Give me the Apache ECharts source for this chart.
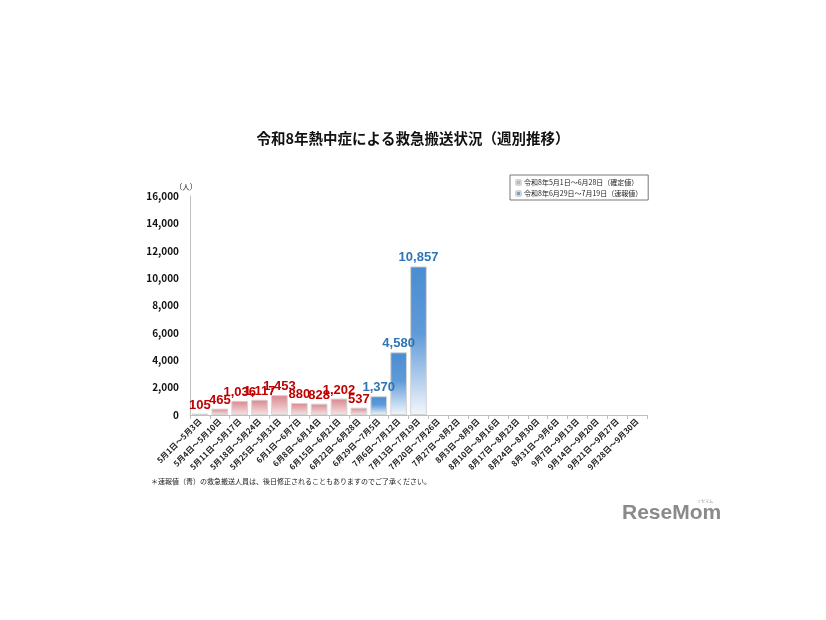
<!DOCTYPE html>
<html><head><meta charset="utf-8">
<script src="https://cdn.jsdelivr.net/npm/echarts@6/dist/echarts.min.js"></script>
<style>html,body{margin:0;padding:0;background:#fff}#c{width:826px;height:620px}</style>
</head><body><div id="c"></div>
<script>
const categories = ['5月1日～5月3日','5月4日～5月10日','5月11日～5月17日','5月18日～5月24日','5月25日～5月31日','6月1日～6月7日','6月8日～6月14日','6月15日～6月21日','6月22日～6月28日','6月29日～7月5日','7月6日～7月12日','7月13日～7月19日','7月20日～7月26日','7月27日～8月2日','8月3日～8月9日','8月10日～8月16日','8月17日～8月23日','8月24日～8月30日','8月31日～9月6日','9月7日～9月13日','9月14日～9月20日','9月21日～9月27日','9月28日～9月30日'];
const confirmedValues = [105,465,1036,1117,1453,880,828,1202,537,'-','-','-','-','-','-','-','-','-','-','-','-','-','-'];
const preliminaryValues = ['-','-','-','-','-','-','-','-','-',1370,4580,10857,'-','-','-','-','-','-','-','-','-','-','-'];
const yTicks = {min:0, max:16000, interval:2000};
const seriesNames = ['令和8年5月1日～6月28日（確定値）','令和8年6月29日～7月19日（速報値）'];

const font = '"Noto Sans CJK JP", "Noto Sans", sans-serif';
const numFont = '"Liberation Sans Narrow", "Liberation Sans", Arial, sans-serif';
const fmt = p => Number(p.value).toLocaleString('en-US');
const chart = echarts.init(document.getElementById('c'));
chart.setOption({
  animation:false,
  textStyle:{fontFamily:font},
  title:{text:'令和8年熱中症による救急搬送状況（週別推移）',left:'center',top:126,
    textStyle:{fontSize:14.5,fontWeight:'bold',color:'#111',fontFamily:font}},
  legend:{orient:'vertical',left:510,top:175,width:138,itemWidth:5,itemHeight:5,itemGap:4,
    padding:[4,6,3,5],borderColor:'#555',borderWidth:0.8,
    textStyle:{fontSize:7,color:'#222',fontFamily:font,padding:[0,0,0,-2]},
    data:[{name:seriesNames[0],itemStyle:{color:'#e4a6ab'}},{name:seriesNames[1],itemStyle:{color:'#6ea3dc'}}]},
  grid:{left:190,right:179,top:196,bottom:205},
  xAxis:{type:'category',data:categories,
    axisLine:{lineStyle:{color:'#bfbfbf'}},
    axisTick:{show:true,length:4,lineStyle:{color:'#bfbfbf'}},
    axisLabel:{interval:0,rotate:45,fontSize:8,fontWeight:'bold',color:'#222',margin:5,fontFamily:font}},
  yAxis:{type:'value',min:yTicks.min,max:yTicks.max,interval:yTicks.interval,
    name:'（人）',nameLocation:'end',nameGap:4,
    nameTextStyle:{fontSize:7.5,color:'#222',align:'center',padding:[0,8,0,0]},
    splitLine:{show:false},
    axisLine:{show:true,lineStyle:{color:'#bfbfbf'}},axisTick:{show:false},
    axisLabel:{fontSize:10,fontWeight:'bold',color:'#111',margin:11,
      formatter:v=>Number(v).toLocaleString('en-US')}},
  series:[
    {name:seriesNames[0],type:'bar',data:confirmedValues,barWidth:'84%',barGap:'-100%',
      itemStyle:{borderColor:'#d4d4d4',borderWidth:1,
        color:new echarts.graphic.LinearGradient(0,0,0,1,[{offset:0,color:'#d8868d'},{offset:1,color:'#f8e4e5'}])},
      label:{show:true,position:'top',distance:2,formatter:fmt,color:'#c00000',fontSize:13,fontWeight:'bold',fontFamily:numFont}},
    {name:seriesNames[1],type:'bar',data:preliminaryValues,barWidth:'84%',barGap:'-100%',
      itemStyle:{borderColor:'#d4d4d4',borderWidth:1,
        color:new echarts.graphic.LinearGradient(0,0,0,1,[{offset:0,color:'#4a8dd2'},{offset:0.45,color:'#5f9ad8'},{offset:1,color:'#f3f7fc'}])},
      label:{show:true,position:'top',distance:2,formatter:fmt,color:'#2e75b6',fontSize:13,fontWeight:'bold',fontFamily:numFont}}
  ],
  graphic:[
    {type:'text',left:151,top:478,style:{text:'＊速報値（青）の救急搬送人員は、後日修正されることもありますのでご了承ください。',fontSize:7,fill:'#222',fontFamily:font}},
    {type:'text',left:622,top:503,style:{text:'ReseMom',fontSize:21,fontWeight:'bold',fill:'#8a8a8a',fontFamily:numFont}},
    {type:'text',left:697,top:499,style:{text:'リセマム',fontSize:4,fill:'#999',fontFamily:font}}
  ]
});
</script></body></html>
